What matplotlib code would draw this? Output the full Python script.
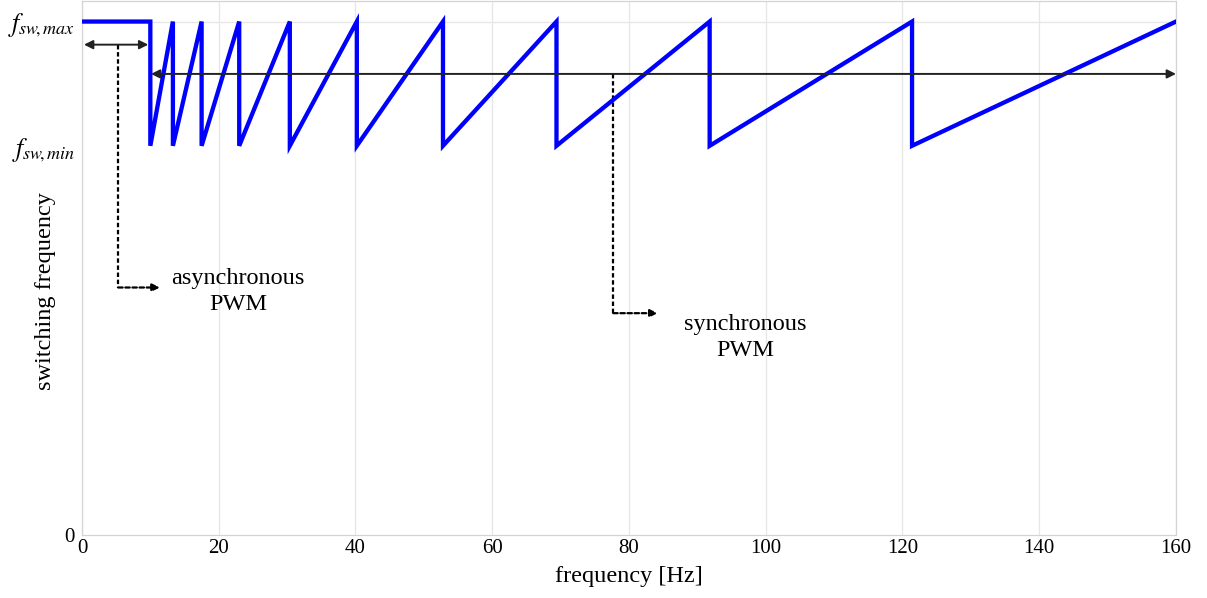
import matplotlib
matplotlib.use("Agg")
import matplotlib.pyplot as plt

# ---- data ----
f_max = 1.0
f_min = 0.758
# output frequencies (Hz) where the switching frequency drops from f_max to f_min
breakpoints = [10.0, 13.3, 17.5, 23.0, 30.4, 40.2, 52.8, 69.4, 91.8, 121.4]
x_end = 160.0

xticks = [0, 20, 40, 60, 80, 100, 120, 140, 160]
ytick_vals = [0, f_min, f_max]
ytick_labels = ["0", r"$f_{sw\!,min}$", r"$f_{sw\!,max}$"]

# annotation positions (data coords)
async_arrow_y = 0.955
sync_arrow_y = 0.898
async_guide_x, async_guide_y, async_guide_end = 5.3, 0.482, 11.4
sync_guide_x, sync_guide_y, sync_guide_end = 77.7, 0.432, 84.2
async_text = (22.8, 0.474)
sync_text = (97.0, 0.385)

# ---- build the sawtooth from breakpoints ----
xs = [0.0]
ys = [f_max]
for b in breakpoints:
    xs += [b, b]
    ys += [f_max, f_min]
xs.append(x_end)
ys.append(f_max)

plt.rcParams["font.family"] = ["Liberation Serif", "DejaVu Serif"]
plt.rcParams["mathtext.fontset"] = "stix"

fig = plt.figure(figsize=(12.07, 5.98), dpi=100)
ax = fig.add_axes([0.0679, 0.1054, 0.9064, 0.8929])

ax.plot(xs, ys, color="#0000ff", lw=3.1, solid_joinstyle="miter", zorder=3)

ax.set_xlim(0, 160)
ax.set_ylim(0, 1.04)
ax.set_xticks(xticks)
ax.set_xticklabels([str(t) for t in xticks], fontsize=15)
ax.set_yticks(ytick_vals)
ax.set_yticklabels(ytick_labels, fontsize=15)
for lbl in ax.get_yticklabels():
    if lbl.get_text().startswith("$"):
        lbl.set_fontsize(18.5)
ax.tick_params(length=0, pad=5)
ax.tick_params(axis="x", pad=3)

ax.grid(axis="x", color="#e6e6e6", lw=0.9)
ax.axhline(f_max, color="#e6e6e6", lw=0.9, zorder=0)
for s in ax.spines.values():
    s.set_color("#d4d4d4")
    s.set_linewidth(0.9)

ax.set_xlabel("frequency [Hz]", fontsize=17.5, labelpad=6)
ax.set_ylabel("switching frequency", fontsize=17.5)
ax.yaxis.set_label_coords(-0.0238, 0.457)

# double arrows
arrow_kw = dict(arrowstyle="<|-|>", color="#222222", lw=1.4, mutation_scale=13,
                shrinkA=0, shrinkB=0)
ax.annotate("", xy=(0.3, async_arrow_y), xytext=(9.7, async_arrow_y),
            arrowprops=arrow_kw, zorder=4)
ax.annotate("", xy=(10.1, sync_arrow_y), xytext=(160, sync_arrow_y),
            arrowprops=arrow_kw, zorder=4)

# dotted guides
dash = (0, (2.0, 1.2))
ax.plot([async_guide_x, async_guide_x], [async_arrow_y, async_guide_y],
        color="black", lw=1.6, ls=dash)
ax.annotate("", xy=(async_guide_end, async_guide_y), xytext=(async_guide_x, async_guide_y),
            arrowprops=dict(arrowstyle="-|>", color="black", lw=1.6, ls=dash,
                            mutation_scale=11, shrinkA=0, shrinkB=0))
ax.plot([sync_guide_x, sync_guide_x], [sync_arrow_y, sync_guide_y],
        color="black", lw=1.6, ls=dash)
ax.annotate("", xy=(sync_guide_end, sync_guide_y), xytext=(sync_guide_x, sync_guide_y),
            arrowprops=dict(arrowstyle="-|>", color="black", lw=1.6, ls=dash,
                            mutation_scale=11, shrinkA=0, shrinkB=0))

ax.text(*async_text, "asynchronous\nPWM", ha="center", va="center",
        fontsize=17.5, linespacing=1.3)
ax.text(*sync_text, "synchronous\nPWM", ha="center", va="center",
        fontsize=17.5, linespacing=1.3)

fig.savefig("out.png", dpi=100)
